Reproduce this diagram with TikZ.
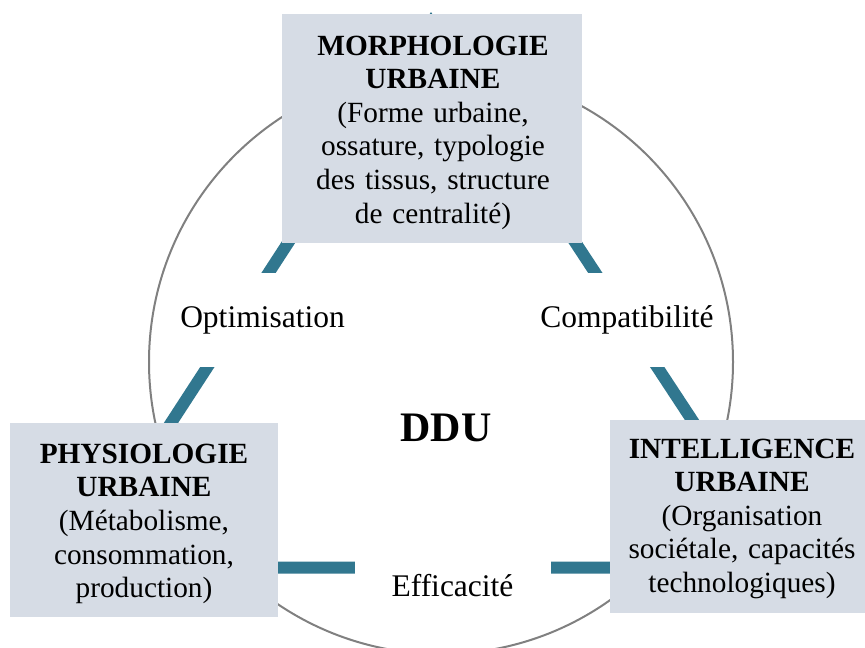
\documentclass[tikz,border=0pt]{standalone}
\usepackage{fontspec}
\setmainfont{Liberation Serif}
\definecolor{boxfill}{RGB}{214,220,229}
\definecolor{tealline}{RGB}{49,119,143}
\definecolor{ringgray}{RGB}{128,128,128}
\begin{document}
\begin{tikzpicture}[x=1pt,y=-1pt,
  box/.style={fill=boxfill, draw=none, inner sep=0pt},
  boxtext/.style={align=center, text width=#1, anchor=base, inner sep=0pt,
    font=\fontsize{29.3}{33.6}\selectfont},
  lbl/.style={fill=white, inner xsep=4pt, inner ysep=0pt, anchor=base,
    font=\fontsize{31.5}{36}\selectfont},
  tri/.style={draw=tealline, line width=12pt},
  ring/.style={draw=ringgray, line width=2pt}]
\useasboundingbox (0,0) rectangle (865,648);
% triangle behind everything
\coordinate (tA) at (431,23);
\coordinate (tB) at (77,567.5);
\coordinate (tC) at (789,567.5);
\draw[tri] (tA) -- (tB) -- (tC) -- cycle;
% relation labels
\node[lbl, minimum height=94pt] (opt) at (262.5,327.3) {Optimisation};
\node[lbl, minimum height=94pt] (comp) at (627,327.3) {Compatibilité};
\node[lbl, minimum width=196pt, minimum height=60pt] (eff) at (452.5,596) {Efficacité};
% circle
\coordinate (c0) at (441,362);
\draw[ring] (c0) circle[radius=292];
% centre
\node[anchor=base, inner sep=0pt, font=\bfseries\fontsize{42}{48}\selectfont] (ddu) at (446,441.7) {DDU};
% boxes
\node[box, minimum width=300pt, minimum height=229pt] (morph) at (432,128.5) {};
\node[boxtext=300pt] (morphtxt) at (433,55) {\textbf{MORPHOLOGIE}\\\textbf{URBAINE}\\(Forme urbaine,\\ossature, typologie\\des tissus, structure\\de centralité)};
\node[box, minimum width=268pt, minimum height=194pt] (physio) at (144,520) {};
\node[boxtext=268pt] (physiotxt) at (144,463.3) {\textbf{PHYSIOLOGIE}\\\textbf{URBAINE}\\(Métabolisme,\\consommation,\\production)};
\node[box, minimum width=255pt, minimum height=193pt] (intel) at (737.5,516.5) {};
\node[boxtext=255pt] (inteltxt) at (742,458) {\textbf{INTELLIGENCE}\\\textbf{URBAINE}\\(Organisation\\sociétale, capacités\\technologiques)};
\end{tikzpicture}
\end{document}
